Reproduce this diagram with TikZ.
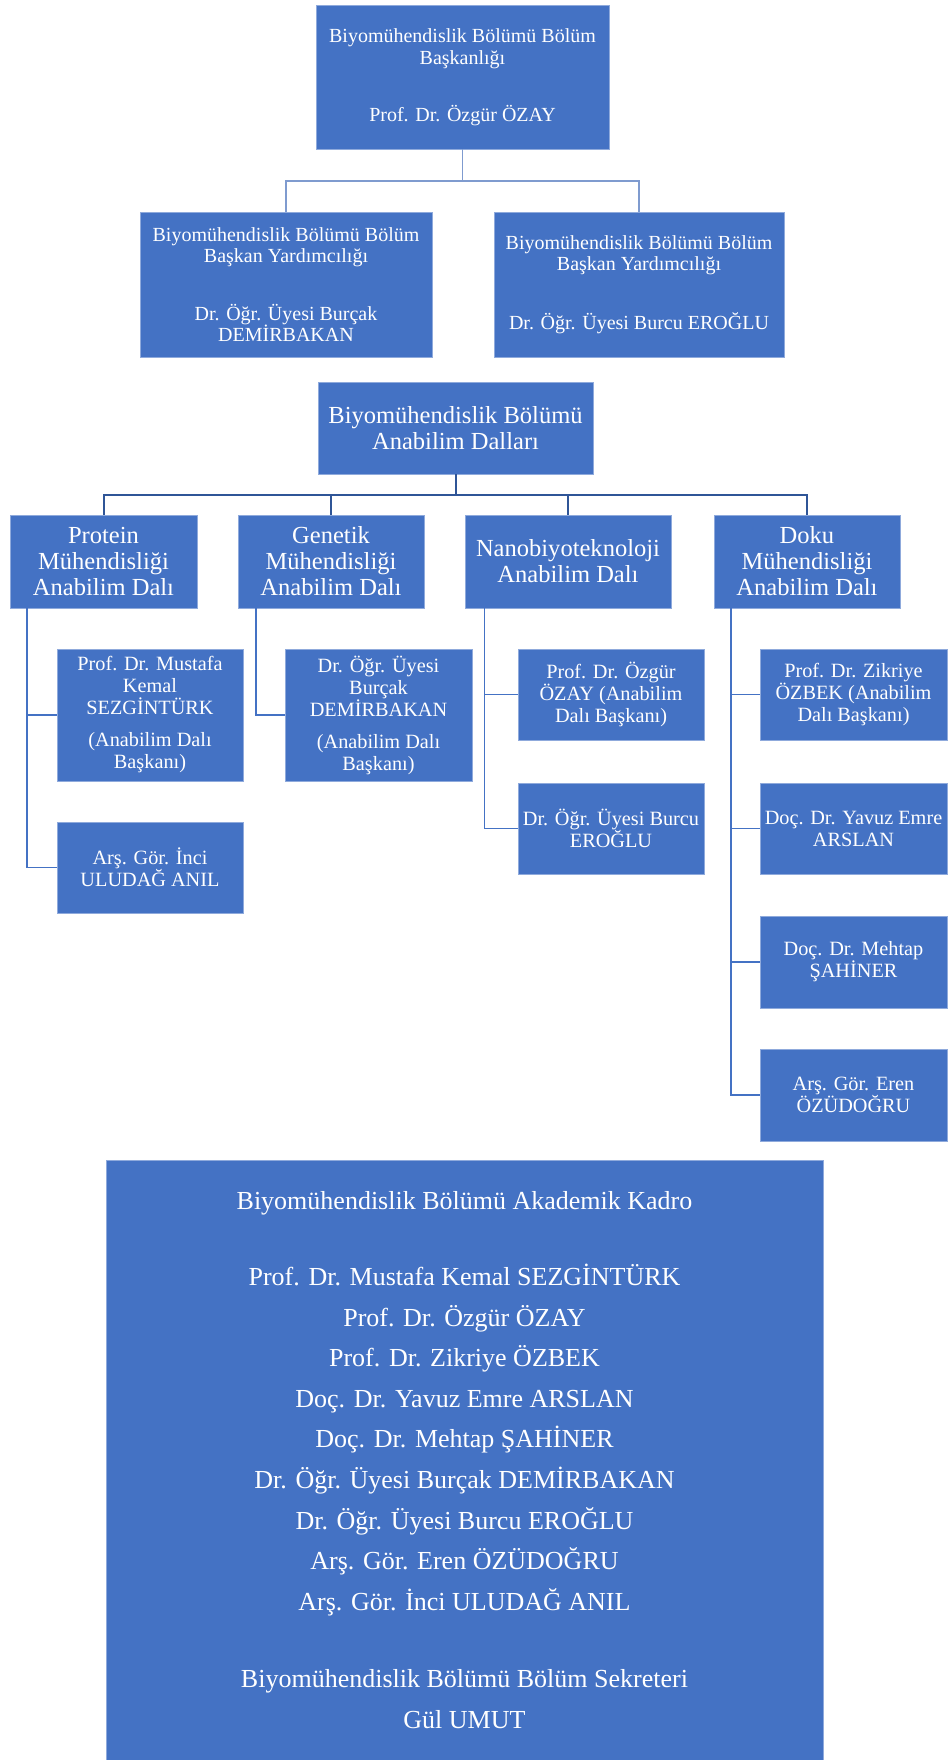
\documentclass[tikz,border=0pt]{standalone}
\usepackage{fontspec}
\setmainfont{Liberation Serif}
\definecolor{boxblue}{HTML}{4472C4}
\definecolor{boxedge}{HTML}{8FAADC}
\definecolor{linelight}{HTML}{7F9BCF}
\definecolor{linedark}{HTML}{2F5597}
\newcommand\bx[7][]{\node[obox,#1,minimum width={(#5-(#3))*0.75pt},minimum height={(#6-(#4))*0.75pt}] (#2) at ({(#3+#5)/2},{(#4+#6)/2}) {#7};}
\begin{document}
\begin{tikzpicture}[x=0.75pt,y=-0.75pt,
  obox/.style={rectangle,fill=boxblue,draw=boxedge,line width=0.5pt,inner sep=0pt,align=center,text=white},
  ftop/.style={font=\fontsize{15pt}{16.5pt}\selectfont},
  frow/.style={font=\fontsize{15pt}{15.75pt}\selectfont},
  fdal/.style={font=\fontsize{18.4pt}{19.5pt}\selectfont},
  fkid/.style={font=\fontsize{15.2pt}{16.5pt}\selectfont},
  fbig/.style={font=\fontsize{19.5pt}{30.4pt}\selectfont},
  cone/.style={draw=linelight,line width=1.1pt},
  ctwo/.style={draw=linedark,line width=1.5pt},
  cthree/.style={draw=boxblue,line width=1.3pt}]
\useasboundingbox (0,0) rectangle (947,1760);
% top level
\bx[ftop]{top}{316}{5}{609}{149}{Biyomühendislik Bölümü Bölüm\\ Başkanlığı\\[26pt] Prof. Dr. Özgür ÖZAY}
\bx[frow]{vl}{140}{212}{432}{357}{Biyomühendislik Bölümü Bölüm\\ Başkan Yardımcılığı\\[27.5pt] Dr. Öğr. Üyesi Burçak\\ DEMİRBAKAN}
\bx[frow]{vr}{494}{212}{784}{357}{Biyomühendislik Bölümü Bölüm\\ Başkan Yardımcılığı\\[27pt] Dr. Öğr. Üyesi Burcu EROĞLU}
\coordinate (j1) at (462.5,181);
\draw[cone] (top.south) -- (j1) -| (vl.north);
\draw[cone] (j1) -| (vr.north);
% departments
\bx[fdal]{dal}{318}{382}{593}{474}{Biyomühendislik Bölümü\\ Anabilim Dalları}
\bx[fdal]{prot}{10}{515}{197}{608}{Protein\\ Mühendisliği\\ Anabilim Dalı}
\bx[fdal]{gen}{238}{515}{424}{608}{Genetik\\ Mühendisliği\\ Anabilim Dalı}
\bx[fdal]{nano}{465}{515}{671}{608}{Nanobiyoteknoloji\\ Anabilim Dalı}
\bx[fdal]{doku}{714}{515}{900}{608}{Doku\\ Mühendisliği\\ Anabilim Dalı}
\coordinate (j2) at (455.5,495);
\draw[ctwo] (dal.south) -- (j2);
\draw[ctwo] (j2) -| (prot.north);
\draw[ctwo] (j2) -| (gen.north);
\draw[ctwo] (j2) -| (nano.north);
\draw[ctwo] (j2) -| (doku.north);
% members
\bx[fkid]{must}{57}{649}{243}{781}{Prof. Dr. Mustafa\\ Kemal\\ SEZGİNTÜRK\\[7.5pt] (Anabilim Dalı\\ Başkanı)}
\bx[fkid]{inci}{57}{822}{243}{913}{Arş. Gör. İnci\\ ULUDAĞ ANIL}
\bx[fkid]{burcak}{285}{649}{472}{781}{Dr. Öğr. Üyesi\\ Burçak\\ DEMİRBAKAN\\[7.5pt] (Anabilim Dalı\\ Başkanı)}
\bx[fkid]{ozgur}{518}{649}{704}{740}{Prof. Dr. Özgür\\ ÖZAY (Anabilim\\ Dalı Başkanı)}
\bx[fkid]{burcu}{518}{783}{704}{874}{Dr. Öğr. Üyesi Burcu\\ EROĞLU}
\bx[fkid]{zik}{760}{649}{947}{740}{Prof. Dr. Zikriye\\ ÖZBEK (Anabilim\\ Dalı Başkanı)}
\bx[fkid]{yavuz}{760}{783}{947}{874}{Doç. Dr. Yavuz Emre\\ ARSLAN}
\bx[fkid]{mehtap}{760}{916}{947}{1008}{Doç. Dr. Mehtap\\ ŞAHİNER}
\bx[fkid]{eren}{760}{1049}{947}{1141}{Arş. Gör. Eren\\ ÖZÜDOĞRU}
\coordinate (pv) at ([xshift=12.75pt]prot.south west);
\coordinate (gv) at ([xshift=13.5pt]gen.south west);
\coordinate (nv) at ([xshift=14.8pt]nano.south west);
\coordinate (dv) at ([xshift=12.75pt]doku.south west);
\draw[cthree] (pv) |- (must.west);
\draw[cthree] (pv) |- (inci.west);
\draw[cthree] (gv) |- (burcak.west);
\draw[cthree] (nv) |- (ozgur.west);
\draw[cthree] (nv) |- (burcu.west);
\draw[cthree] (dv) |- (zik.west);
\draw[cthree] (dv) |- (yavuz.west);
\draw[cthree] (dv) |- (mehtap.west);
\draw[cthree] (dv) |- (eren.west);
% academic staff
\bx[fbig]{kadro}{106}{1160}{823}{1760}{Biyomühendislik Bölümü Akademik Kadro\\[27pt]
Prof. Dr. Mustafa Kemal SEZGİNTÜRK\\
Prof. Dr. Özgür ÖZAY\\
Prof. Dr. Zikriye ÖZBEK\\
Doç. Dr. Yavuz Emre ARSLAN\\
Doç. Dr. Mehtap ŞAHİNER\\
Dr. Öğr. Üyesi Burçak DEMİRBAKAN\\
Dr. Öğr. Üyesi Burcu EROĞLU\\
Arş. Gör. Eren ÖZÜDOĞRU\\
Arş. Gör. İnci ULUDAĞ ANIL\\[28pt]
Biyomühendislik Bölümü Bölüm Sekreteri\\
Gül UMUT}
\end{tikzpicture}
\end{document}
